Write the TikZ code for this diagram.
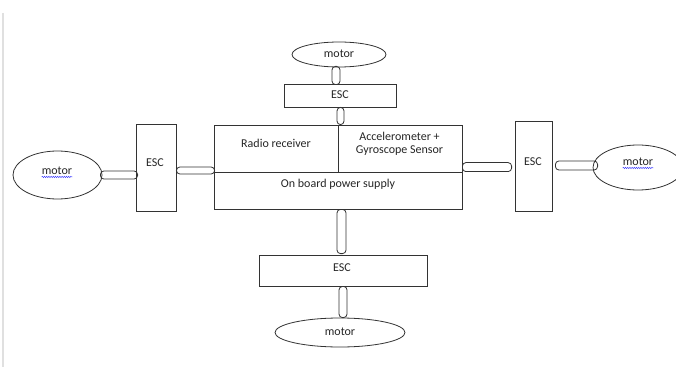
\documentclass[tikz,border=0pt]{standalone}
\usepackage{fontspec}
\setmainfont{Carlito}
\usetikzlibrary{shapes.geometric,calc,decorations.pathmorphing}
\begin{document}
\begin{tikzpicture}[x=1pt,y=-1pt,
  outline/.style={draw=black!80, line width=0.8pt},
  box/.style={outline, rectangle, inner sep=0pt},
  motor/.style={outline, ellipse, inner sep=0pt},
  lbl/.style={font=\fontsize{12}{13}\selectfont, inner sep=0pt, align=center, text=black!85},
  capsule/.style={outline, rounded corners=3.5pt},
  squiggle/.style={draw=blue!75, line width=0.45pt, decorate,
    decoration={snake, amplitude=0.7pt, segment length=2.2pt}}
]
\useasboundingbox (0,0) rectangle (676,371);
\fill[white] (0,0) rectangle (676,371);

% page margin rule
\draw[black!12, line width=1.2pt] (3,13) -- (3,367);

% central controller block
\node[box, minimum width=124pt, minimum height=47pt] (radio) at (276,148.5) {};
\node[box, minimum width=124pt, minimum height=47pt] (imu) at (400,148.5) {};
\node[box, minimum width=248pt, minimum height=37pt] (power) at (338,190.5) {};
\node[lbl] (radiotxt) at (276,143) {Radio receiver};
\node[lbl] (imutxt) at (399.5,143.5) {Accelerometer +\\Gyroscope Sensor};
\node[lbl] (powertxt) at (338,184) {On board power supply};

% speed controllers
\node[box, minimum width=112pt, minimum height=23pt] (tesc) at (340,95.5) {};
\node[lbl] (tesctxt) at (340,95) {ESC};
\node[box, minimum width=40pt, minimum height=87pt] (lesc) at (156,167.5) {};
\node[lbl] (lesctxt) at (155,163) {ESC};
\node[box, minimum width=37pt, minimum height=90pt] (resc) at (533.5,166) {};
\node[lbl] (resctxt) at (533,162) {ESC};
\node[box, minimum width=168pt, minimum height=31pt] (besc) at (343,270.5) {};
\node[lbl] (besctxt) at (342,268) {ESC};

% motors
\node[motor, minimum width=94pt, minimum height=25pt] (tmot) at (339,54.5) {};
\node[lbl] (tmottxt) at (339,54) {motor};
\node[motor, minimum width=89pt, minimum height=48pt] (lmot) at (57.5,175) {};
\node[lbl] (lmottxt) at (57,171) {motor};
\node[motor, minimum width=90pt, minimum height=45pt] (rmot) at (638,167.5) {};
\node[lbl] (rmottxt) at (638,162) {motor};
\node[motor, minimum width=130pt, minimum height=29pt] (bmot) at (340,332.5) {};
\node[lbl] (bmottxt) at (340,332) {motor};

% spell-check marks under the side labels
\draw[squiggle] ($(lmottxt.base west)+(0,2.2)$) -- ($(lmottxt.base east)+(0,2.2)$);
\draw[squiggle] ($(rmottxt.base west)+(0,2.2)$) -- ($(rmottxt.base east)+(0,2.2)$);

% cable links
\draw[capsule] ($(tmot.south)+(-7,-1)$) rectangle ($(tesc.north -| tmot.south)+(1,1)$);
\draw[capsule] ($(tesc.south)+(-3,0)$) rectangle ($(radio.north -| tesc.south)+(4,0)$);
\draw[capsule] ($(lmot.east)+(-2,-4)$) rectangle ($(lesc.west |- lmot.east)+(2,4)$);
\draw[capsule] ($(lesc.east)+(0,-0.5)$) rectangle ($(power.west |- lesc.east)+(1,6.5)$);
\draw[capsule] ($(power.north east)+(0,-9)$) rectangle ($(resc.west |- power.north east)+(-3,0)$);
\draw[capsule] ($(resc.east)+(3,-5)$) rectangle ($(rmot.west |- resc.east)+(5,4)$);
\draw[capsule] ($(power.south)+(-1,0)$) rectangle ($(besc.north -| power.south)+(8,-1)$);
\draw[capsule] ($(besc.south)+(-4,0)$) rectangle ($(bmot.north -| besc.south)+(4,0)$);
\end{tikzpicture}
\end{document}
